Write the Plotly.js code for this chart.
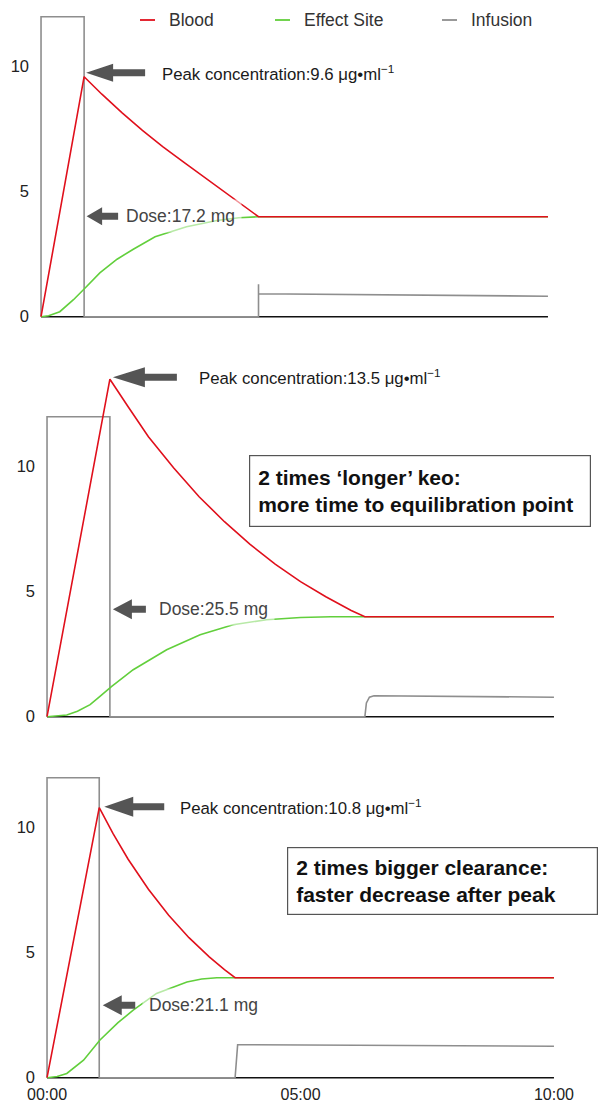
<!DOCTYPE html>
<html>
<head>
<meta charset="utf-8">
<script src="https://cdn.plot.ly/plotly-3.0.1.min.js"></script>
<style>html,body{margin:0;padding:0;background:#fff}#chart{width:600px;height:1103px}</style>
</head>
<body>
<div id="chart"></div>
<script>
// ---- data (minutes, µg/ml, infusion rate) ----
const panel1BloodT = [0, 0.85, 1.2, 1.6, 2.0, 2.4, 2.8, 3.2, 3.6, 4.0, 4.29, 10];
const panel1BloodC = [0, 9.6, 8.9, 8.15, 7.45, 6.8, 6.2, 5.6, 5.0, 4.42, 4.0, 4.0];
const panel1EffectT = [0, 0.15, 0.37, 0.64, 0.87, 1.16, 1.5, 1.82, 2.25, 2.87, 3.47, 3.9, 4.29, 10];
const panel1EffectC = [0, 0.04, 0.2, 0.68, 1.15, 1.75, 2.3, 2.7, 3.2, 3.6, 3.85, 3.96, 4.0, 4.0];
const panel1InfT = [0, 0, 0.85, 0.85, 4.29, 4.29, 4.29, 10];
const panel1InfR = [0, 12, 12, 0, 0, 1.3, 0.92, 0.82];

const panel2BloodT = [0, 1.24, 1.6, 2.0, 2.5, 3.0, 3.5, 4.0, 4.5, 5.0, 5.5, 6.0, 6.27, 10];
const panel2BloodC = [0, 13.5, 12.4, 11.2, 9.95, 8.8, 7.8, 6.9, 6.1, 5.4, 4.8, 4.25, 4.0, 4.0];
const panel2EffectT = [0, 0.39, 0.6, 0.85, 1.05, 1.27, 1.7, 2.36, 3.02, 3.67, 4.33, 5.0, 5.6, 6.27, 10];
const panel2EffectC = [0, 0.07, 0.22, 0.48, 0.82, 1.2, 1.88, 2.68, 3.28, 3.68, 3.88, 3.97, 4.0, 4.0, 4.0];
const panel2InfT = [0, 0, 1.24, 1.24, 6.27, 6.3, 6.36, 6.45, 10];
const panel2InfR = [0, 12, 12, 0, 0, 0.55, 0.78, 0.84, 0.78];

const panel3BloodT = [0, 1.03, 1.3, 1.6, 2.0, 2.4, 2.8, 3.2, 3.5, 3.71, 10];
const panel3BloodC = [0, 10.8, 9.77, 8.74, 7.54, 6.5, 5.6, 4.83, 4.32, 4.0, 4.0];
const panel3EffectT = [0, 0.2, 0.39, 0.72, 1.04, 1.4, 1.7, 2.16, 2.76, 3.05, 3.35, 3.71, 10];
const panel3EffectC = [0, 0.05, 0.17, 0.7, 1.5, 2.2, 2.7, 3.37, 3.83, 3.95, 4.0, 4.0, 4.0];
const panel3InfT = [0, 0, 1.03, 1.03, 3.71, 3.76, 10];
const panel3InfR = [0, 12, 12, 0, 0, 1.32, 1.26];

const seriesNames = ['Blood', 'Effect Site', 'Infusion'];
const yTickVals = [0, 5, 10];
const xTickVals = [0, 5, 10];
const xTickText = ['00:00', '05:00', '10:00'];
const bolusEnd = [0.85, 1.24, 1.03];
const peakValue = [9.6, 13.5, 10.8];
const peakLabels = ['Peak concentration:9.6 μg•ml<sup>−1</sup>', 'Peak concentration:13.5 μg•ml<sup>−1</sup>', 'Peak concentration:10.8 μg•ml<sup>−1</sup>'];
const doseLabels = ['Dose:17.2 mg', 'Dose:25.5 mg', 'Dose:21.1 mg'];
const noteLabels = ['2 times ‘longer’ keo:<br>more time to equilibration point', '2 times bigger clearance:<br>faster decrease after peak'];

// ---- styling ----
const RED = '#e0101c', GREEN = '#62cf3c', GRAY = '#8e8e8e', ARROW = '#555555';
const FONT = 'Liberation Sans, Arial, Helvetica, sans-serif';
const W = 600, H = 1103;
const px = v => v / W, py = v => 1 - v / H;

const panels = [
  {bt: panel1BloodT, bc: panel1BloodC, et: panel1EffectT, ec: panel1EffectC, it: panel1InfT, ir: panel1InfR},
  {bt: panel2BloodT, bc: panel2BloodC, et: panel2EffectT, ec: panel2EffectC, it: panel2InfT, ir: panel2InfR},
  {bt: panel3BloodT, bc: panel3BloodC, et: panel3EffectT, ec: panel3EffectC, it: panel3InfT, ir: panel3InfR}
];

const traces = [];
panels.forEach((p, i) => {
  const xa = i === 0 ? 'x' : 'x' + (i + 1);
  const ya = i === 0 ? 'y' : 'y' + (i + 1);
  traces.push({x: p.it, y: p.ir, xaxis: xa, yaxis: ya, mode: 'lines', name: seriesNames[2], showlegend: false, line: {color: GRAY, width: 1.6}, hoverinfo: 'skip'});
  traces.push({x: p.et, y: p.ec, xaxis: xa, yaxis: ya, mode: 'lines', name: seriesNames[1], showlegend: false, line: {color: GREEN, width: 1.6}, hoverinfo: 'skip'});
  traces.push({x: p.bt, y: p.bc, xaxis: xa, yaxis: ya, mode: 'lines', name: seriesNames[0], showlegend: false, line: {color: RED, width: 1.6}, hoverinfo: 'skip'});
});

const baseY = {showgrid: false, zeroline: false, showline: false, ticks: '', tickvals: yTickVals,
  tickfont: {size: 16.5, color: '#222', family: FONT}, ticklabelstandoff: 9, fixedrange: true};
const baseX = {showgrid: false, zeroline: false, showline: false, ticks: '', range: [-0.04, 10.04], fixedrange: true};

const layout = {
  width: W, height: H,
  margin: {l: 0, r: 0, t: 0, b: 0},
  paper_bgcolor: '#fff', plot_bgcolor: '#fff',
  font: {family: FONT, color: '#222'},
  showlegend: false,
  xaxis: Object.assign({}, baseX, {domain: [px(39), px(550)], anchor: 'y', showticklabels: false}),
  xaxis2: Object.assign({}, baseX, {domain: [px(45), px(556)], anchor: 'y2', showticklabels: false}),
  xaxis3: Object.assign({}, baseX, {domain: [px(45), px(556)], anchor: 'y3', tickvals: xTickVals, ticktext: xTickText,
    tickfont: {size: 16, color: '#222', family: FONT}, ticklabelstandoff: 3}),
  yaxis: Object.assign({}, baseY, {domain: [py(319.2), py(4.2)], range: [-0.1, 12.5], anchor: 'x'}),
  yaxis2: Object.assign({}, baseY, {domain: [py(719.2), py(361.7)], range: [-0.1, 14.2], anchor: 'x2'}),
  yaxis3: Object.assign({}, baseY, {domain: [py(1080.2), py(762.7)], range: [-0.1, 12.6], anchor: 'x3'}),
  shapes: [],
  annotations: []
};

// axis baselines
[['x', 'y'], ['x2', 'y2'], ['x3', 'y3']].forEach(([xr, yr]) => {
  layout.shapes.push({type: 'line', xref: xr, yref: yr, x0: 0, x1: 10, y0: 0, y1: 0, layer: 'below', line: {color: '#111', width: 1.6}});
});

// block arrows (pixel paths anchored at data points)
const peakArrowPaths = [
  'M2,4 L29,13 L29,7.5 L61,7.5 L61,0.5 L29,0.5 L29,-5 Z',
  'M3,2 L35,12 L35,5.5 L67,5.5 L67,-1.5 L35,-1.5 L35,-8 Z',
  'M5,1 L34,11 L34,4.5 L65,4.5 L65,-2.5 L34,-2.5 L34,-9 Z'
];
const doseArrowY = [4.0, 4.3, 2.9];
const doseArrowPaths = [
  'M2.5,0.5 L18,9.5 L18,4 L34,4 L34,-3 L18,-3 L18,-8.5 Z',
  'M3,0 L22,10 L22,3.5 L36,3.5 L36,-3.5 L22,-3.5 L22,-10 Z',
  'M3.5,0 L22.5,10 L22.5,3.5 L36,3.5 L36,-3.5 L22.5,-3.5 L22.5,-10 Z'
];
[0, 1, 2].forEach(i => {
  const xr = i === 0 ? 'x' : 'x' + (i + 1), yr = i === 0 ? 'y' : 'y' + (i + 1);
  layout.shapes.push({type: 'path', xref: xr, yref: yr, xsizemode: 'pixel', ysizemode: 'pixel',
    xanchor: bolusEnd[i], yanchor: peakValue[i], path: peakArrowPaths[i], fillcolor: ARROW, line: {width: 0}});
  layout.shapes.push({type: 'path', xref: xr, yref: yr, xsizemode: 'pixel', ysizemode: 'pixel',
    xanchor: bolusEnd[i], yanchor: doseArrowY[i], path: doseArrowPaths[i], fillcolor: ARROW, line: {width: 0}});
});

// text labels
const peakPos = [[160, 73], [197, 377], [178, 807]];
const dosePos = [[126, 216], [159, 609], [149, 1005]];
[0, 1, 2].forEach(i => {
  layout.annotations.push({xref: 'paper', yref: 'paper', x: px(peakPos[i][0]), y: py(peakPos[i][1]), xanchor: 'left', yanchor: 'middle',
    text: peakLabels[i], showarrow: false, font: {size: 16.8, color: '#1a1a1a', family: FONT}});
  layout.annotations.push({xref: 'paper', yref: 'paper', x: px(dosePos[i][0] - 7), y: py(dosePos[i][1]), xanchor: 'left', yanchor: 'middle',
    text: doseLabels[i], showarrow: false, font: {size: 17.5, color: '#444', family: FONT},
    bgcolor: 'rgba(255,255,255,0.55)', borderpad: 6});
});

// note boxes
const noteBoxes = [[249, 455, 342, 72], [287, 847, 311, 68]];
noteBoxes.forEach((b, i) => {
  const pad = 8;
  layout.annotations.push({xref: 'paper', yref: 'paper', x: px(b[0]), y: py(b[1]), xanchor: 'left', yanchor: 'top',
    text: '<b>' + noteLabels[i] + '</b>', showarrow: false, align: 'left', valign: 'middle',
    width: b[2] - 2 * pad - 2, height: b[3] - 2 * pad - 2, borderpad: pad, borderwidth: 1.2, bordercolor: '#555', bgcolor: '#fff',
    font: {size: 21, color: '#111', family: FONT}});
});

// legend (drawn manually)
const legendItems = [[140, RED], [275, GREEN], [442, GRAY]];
legendItems.forEach((it, i) => {
  layout.shapes.push({type: 'line', xref: 'paper', yref: 'paper', x0: px(it[0]), x1: px(it[0] + 15), y0: py(20), y1: py(20), line: {color: it[1], width: 1.8}});
  layout.annotations.push({xref: 'paper', yref: 'paper', x: px(it[0] + 27), y: py(20), xanchor: 'left', yanchor: 'middle',
    text: seriesNames[i], showarrow: false, font: {size: 17.5, color: '#333', family: FONT}});
});

Plotly.newPlot('chart', traces, layout, {staticPlot: true, displayModeBar: false});
</script>
</body>
</html>
